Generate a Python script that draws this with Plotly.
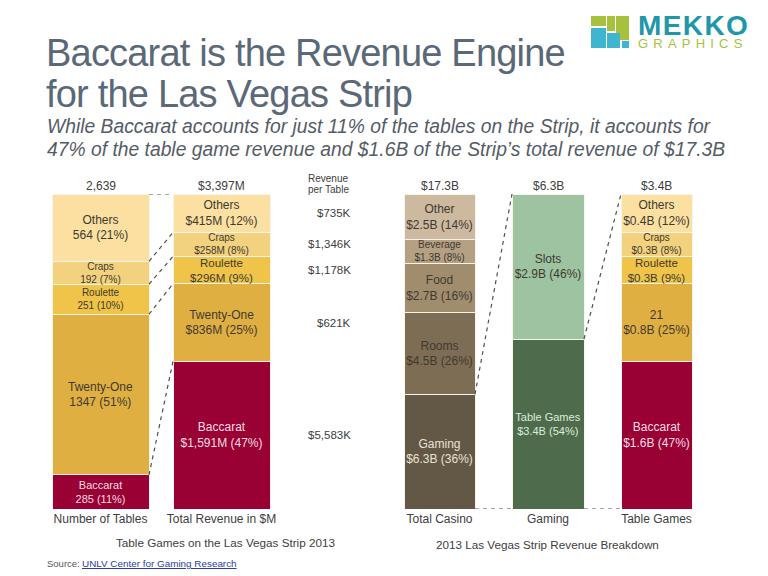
import plotly.graph_objects as go

# ---------- data
games = ["Baccarat", "Twenty-One", "Roulette", "Craps", "Others"]
tables = [285, 1347, 251, 192, 564]
revenue_m = [1591, 836, 296, 258, 415]
revenue_per_table = ["$5,583K", "$621K", "$1,178K", "$1,346K", "$735K"]
tables_labels = ["Baccarat<br>285 (11%)", "Twenty-One<br>1347 (51%)", "Roulette<br>251 (10%)", "Craps<br>192 (7%)", "Others<br>564 (21%)"]
revenue_labels = ["Baccarat<br>$1,591M (47%)", "Twenty-One<br>$836M (25%)", "Roulette<br>$296M (9%)", "Craps<br>$258M (8%)", "Others<br>$415M (12%)"]

casino_b = [6.3, 4.5, 2.7, 1.3, 2.5]
casino_labels = ["Gaming<br>$6.3B (36%)", "Rooms<br>$4.5B (26%)", "Food<br>$2.7B (16%)", "Beverage<br>$1.3B (8%)", "Other<br>$2.5B (14%)"]
gaming_b = [3.4, 2.9]
gaming_labels = ["Table Games<br>$3.4B (54%)", "Slots<br>$2.9B (46%)"]
table_games_b = [1.591, 0.836, 0.296, 0.258, 0.415]
table_games_labels = ["Baccarat<br>$1.6B (47%)", "21<br>$0.8B (25%)", "Roulette<br>$0.3B (9%)", "Craps<br>$0.3B (8%)", "Others<br>$0.4B (12%)"]

column_names = ["Number of Tables", "Total Revenue in $M", "Total Casino", "Gaming", "Table Games"]
column_totals = ["2,639", "$3,397M", "$17.3B", "$6.3B", "$3.4B"]

# ---------- styles
game_colors = ["#990033", "#DFAF42", "#F0C448", "#F2D27E", "#FBE0A1"]
casino_colors = ["#635845", "#7D6D54", "#A08D6E", "#B5A083", "#CDB8A0"]
gaming_colors = ["#4E6B4C", "#9DC3A0"]
light_text = "#F3DDE3"
dark_text = "#3F3A30"
gray_text = "#404040"
font_name = "Liberation Sans"

H = 576
centers = [100.5, 221.5, 439.5, 548, 656.5]
widths = [97, 97, 71, 72, 71]


def py(pixel):
    # pixel row -> paper coordinate
    return 1 - pixel / H


fig = go.Figure()


def add_column(i, values, labels, colors, text_colors, sizes):
    for v, lab, col, tc, s in zip(values, labels, colors, text_colors, sizes):
        fig.add_trace(go.Bar(
            x=[centers[i]], y=[v], width=[widths[i]],
            marker=dict(color=col, line=dict(color="#F8F4EA", width=1)),
            text=[lab], textposition="inside", insidetextanchor="middle",
            textangle=0, constraintext="none",
            textfont=dict(family=font_name, size=s, color=tc),
            hoverinfo="skip", showlegend=False,
        ))


game_text = [light_text, dark_text, dark_text, dark_text, dark_text]
add_column(0, tables, tables_labels, game_colors, game_text, [11, 12, 10, 10, 12])
add_column(1, revenue_m, revenue_labels, game_colors, game_text, [12, 12, 11.5, 10, 12])
add_column(2, casino_b, casino_labels, casino_colors, ["#E8E2D6", dark_text, dark_text, dark_text, dark_text], [12, 12, 12, 10, 12])
add_column(3, gaming_b, gaming_labels, gaming_colors, ["#DCEBDC", dark_text], [11, 12])
add_column(4, table_games_b, table_games_labels, game_colors, game_text, [12, 12, 11.5, 10, 12])


def shares(values):
    # cumulative top edge of every segment, in percent
    total = sum(values)
    out, run = [], 0
    for v in values:
        run += v
        out.append(run / total * 100)
    return out


def connect(i_left, y_left, i_right, y_right):
    fig.add_trace(go.Scatter(
        x=[centers[i_left] + widths[i_left] / 2, centers[i_right] - widths[i_right] / 2],
        y=[y_left, y_right], mode="lines",
        line=dict(color="#505050", width=1.2, dash="4px,4px"),
        cliponaxis=False, hoverinfo="skip", showlegend=False,
    ))


tables_top = shares(tables)
revenue_top = shares(revenue_m)
casino_top = shares(casino_b)
gaming_top = shares(gaming_b)
for k in range(len(games)):
    connect(0, tables_top[k], 1, revenue_top[k])
connect(2, casino_top[0], 3, 100)
connect(2, 0, 3, 0)
connect(3, gaming_top[0], 4, 100)
connect(3, 0, 4, 0)

# revenue per table column sits level with the middle of the revenue segments
mids = [(a + b) / 2 for a, b in zip([0] + revenue_top[:-1], revenue_top)]
for m, t in zip(mids, revenue_per_table):
    fig.add_annotation(text=t, x=353, y=m, xref="x", yref="y", showarrow=False,
                       xanchor="right", yanchor="middle",
                       font=dict(family=font_name, size=11.5, color=gray_text))


def note(text, x, y, size=12, color=gray_text, anchor="center", **kw):
    fig.add_annotation(text=text, x=x, y=py(y + 1), xref="x", yref="paper", showarrow=False,
                       xanchor=anchor, yanchor="middle",
                       font=dict(family=font_name, size=size, color=color), **kw)


for c, t in zip(centers, column_totals):
    note(t, c, 185)
note("Revenue", 328, 177, size=10)
note("per Table", 328, 188, size=10)

title_color = "#5A6878"
note('<span style="letter-spacing:-0.8px">Baccarat is the Revenue Engine</span>', 44, 52, size=38, color=title_color, anchor="left")
note('<span style="letter-spacing:-0.8px">for the Las Vegas Strip</span>', 44, 93, size=38, color=title_color, anchor="left")
note("<i>While Baccarat accounts for just 11% of the tables on the Strip, it accounts for</i>", 45, 125, size=19.3, color="#555C66", anchor="left")
note("<i>47% of the table game revenue and $1.6B of the Strip’s total revenue of $17.3B</i>", 45, 148, size=19.3, color="#555C66", anchor="left")

note("Table Games on the Las Vegas Strip 2013", 225.5, 541, size=11.7)
note("2013 Las Vegas Strip Revenue Breakdown", 547, 543, size=11.7)
note("Source:", 45, 562, size=9.5, color="#555555", anchor="left")
fig.add_annotation(text="UNLV Center for Gaming Research", x=80, y=py(563), xref="x", yref="paper",
                   showarrow=False, xanchor="left", yanchor="middle",
                   font=dict(family=font_name, size=9.9, color="#2A3C9E", lineposition="under"))

# logo
green = "#A6C23C"
teal = "#3FB6CE"
logo_blocks = [
    (591, 16, 606, 26, green), (607, 16, 615, 31, green), (616, 16, 629, 40, green),
    (591, 28, 606, 48, teal), (607, 33, 620, 48, teal), (622, 41, 629, 48, teal),
]
for x0, y0, x1, y1, col in logo_blocks:
    fig.add_shape(type="rect", xref="x", yref="paper", x0=x0, x1=x1, y0=py(y0), y1=py(y1),
                  fillcolor=col, line_width=0)
note('<b><span style="letter-spacing:1.4px">MEKKO</span></b>', 636, 24, size=28, color="#1E97A8", anchor="left")
note('<span style="letter-spacing:5.2px">GRAPHICS</span>', 636, 42, size=13, color=green, anchor="left")

fig.update_layout(
    barmode="stack", barnorm="percent",
    width=768, height=576, margin=dict(l=0, r=0, t=0, b=0),
    paper_bgcolor="white", plot_bgcolor="white",
    showlegend=False,
    xaxis=dict(range=[0, 768], domain=[0, 1], showgrid=False, zeroline=False, showline=False,
               tickmode="array", tickvals=centers, ticktext=column_names, ticks="",
               ticklabelstandoff=1,
               tickfont=dict(family=font_name, size=12, color=gray_text)),
    yaxis=dict(range=[0, 100], domain=[py(509), py(194)], visible=False),
)

fig.write_html("out.html", config=dict(displayModeBar=False), post_script="document.body.style.margin='0';")
